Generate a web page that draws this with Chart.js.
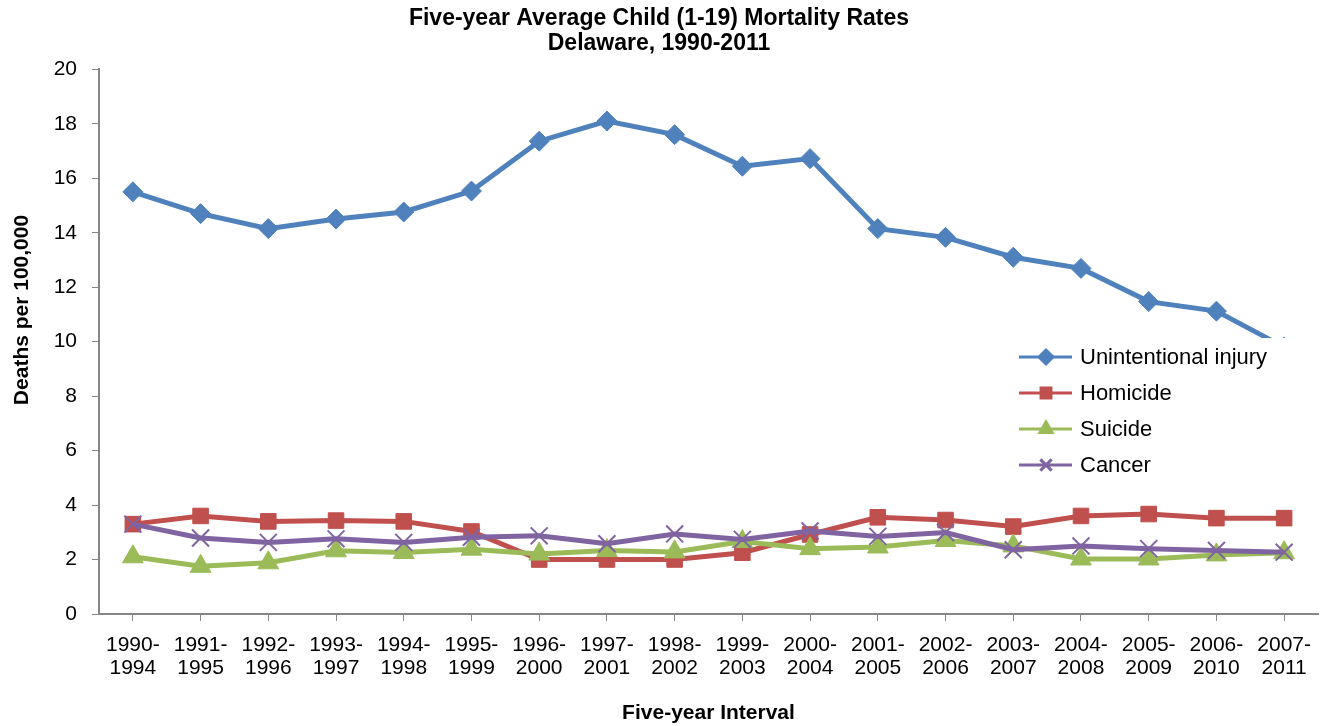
<!DOCTYPE html>
<html lang="en">
<head>
  <meta charset="UTF-8">
  <title>Five-year Average Child (1-19) Mortality Rates, Delaware</title>
  <script src="https://cdn.jsdelivr.net/npm/chart.js"></script>
  <style>
    body {
      margin: 0;
      background: #fff;
    }
    .chart-container {
      width: 1325px;
      height: 726px;
    }
  </style>
</head>
<body>
  <div class="chart-container">
    <canvas id="mortalityChart"></canvas>
  </div>

  <script>
    // Five-year intervals (x axis)
    const intervals = [
      '1990-1994', '1991-1995', '1992-1996', '1993-1997', '1994-1998', '1995-1999',
      '1996-2000', '1997-2001', '1998-2002', '1999-2003', '2000-2004', '2001-2005',
      '2002-2006', '2003-2007', '2004-2008', '2005-2009', '2006-2010', '2007-2011'
    ];

    // Deaths per 100,000 by cause
    const unintentional = [15.5, 14.7, 14.15, 14.5, 14.76, 15.53, 17.36, 18.1, 17.6,
                           16.44, 16.72, 14.15, 13.83, 13.1, 12.69, 11.47, 11.12, 9.8];
    const homicide = [3.3, 3.6, 3.4, 3.43, 3.4, 3.03, 2.0, 2.0, 2.0,
                      2.25, 2.92, 3.55, 3.45, 3.21, 3.6, 3.67, 3.52, 3.52];
    const suicide = [2.1, 1.75, 1.88, 2.32, 2.26, 2.38, 2.2, 2.33, 2.28,
                     2.66, 2.4, 2.46, 2.7, 2.5, 2.02, 2.02, 2.17, 2.25];
    const cancer = [3.3, 2.79, 2.63, 2.76, 2.63, 2.82, 2.87, 2.58, 2.94,
                    2.74, 3.05, 2.85, 2.99, 2.36, 2.5, 2.4, 2.33, 2.27];

    const yTicks = [0, 2, 4, 6, 8, 10, 12, 14, 16, 18, 20];

    const axisGray = '#868686';
    const fontFamily = '"Liberation Sans", Arial, sans-serif';

    // Y axis title sits a little above the plot centre in the original, so draw it by hand
    const yTitle = {
      id: 'yTitle',
      afterDraw(chart) {
        const ctx = chart.ctx;
        ctx.save();
        ctx.translate(22, 310);
        ctx.rotate(-Math.PI / 2);
        ctx.fillStyle = '#000';
        ctx.font = 'bold 21px ' + fontFamily;
        ctx.textAlign = 'center';
        ctx.textBaseline = 'middle';
        ctx.fillText('Deaths per 100,000', 0, 0);
        ctx.restore();
      }
    };

    // Legend drawn on top of the plot with a white box (like the original)
    const boxLegend = {
      id: 'boxLegend',
      afterDraw(chart) {
        const ctx = chart.ctx;
        ctx.save();
        ctx.fillStyle = '#fff';
        ctx.fillRect(1010, 338, 315, 146);
        chart.data.datasets.forEach((ds, i) => {
          const y = 357 + i * 36;
          ctx.strokeStyle = ds.borderColor;
          ctx.lineWidth = 3;
          ctx.beginPath();
          ctx.moveTo(1019, y);
          ctx.lineTo(1072, y);
          ctx.stroke();
          ctx.fillStyle = ds.borderColor;
          Chart.helpers.drawPoint(ctx, {
            pointStyle: ds.pointStyle,
            radius: ds.pointStyle === 'crossRot' ? 8 : 7,
            rotation: 0,
            borderWidth: ds.pointStyle === 'crossRot' ? 2 : 1
          }, 1046, y);
          ctx.fillStyle = '#000';
          ctx.font = '22px ' + fontFamily;
          ctx.textAlign = 'left';
          ctx.textBaseline = 'middle';
          ctx.fillText(ds.label, 1080, y + 1);
        });
        ctx.restore();
      }
    };

    const data = {
      labels: intervals,
      datasets: [
        {
          label: 'Unintentional injury',
          data: unintentional,
          borderColor: '#4F81BD',
          backgroundColor: '#4F81BD',
          pointStyle: 'rectRot',
          pointRadius: 10,
          pointBorderWidth: 1,
          borderWidth: 5,
          order: 4
        },
        {
          label: 'Homicide',
          data: homicide,
          borderColor: '#C0504D',
          backgroundColor: '#C0504D',
          pointStyle: 'rect',
          pointRadius: 11,
          pointBorderWidth: 1,
          borderWidth: 5,
          order: 3
        },
        {
          label: 'Suicide',
          data: suicide,
          borderColor: '#9BBB59',
          backgroundColor: '#9BBB59',
          pointStyle: 'triangle',
          pointRadius: 12,
          pointBorderWidth: 1,
          borderWidth: 5,
          order: 2
        },
        {
          label: 'Cancer',
          data: cancer,
          borderColor: '#8064A2',
          backgroundColor: '#8064A2',
          pointStyle: 'crossRot',
          pointRadius: 12,
          pointBorderWidth: 2,
          borderWidth: 5,
          order: 1
        }
      ]
    };

    const config = {
      type: 'line',
      data: data,
      plugins: [yTitle, boxLegend],
      options: {
        responsive: true,
        maintainAspectRatio: false,
        animation: false,
        layout: {
          autoPadding: false,
          padding: { left: 0, right: 7, top: 0, bottom: 0 }
        },
        elements: {
          line: { tension: 0 }
        },
        scales: {
          x: {
            offset: true,
            grid: {
              drawOnChartArea: false,
              drawTicks: true,
              tickLength: 7,
              color: axisGray,
              offset: false
            },
            border: { color: axisGray, width: 2 },
            ticks: {
              color: '#000',
              padding: 13,
              maxRotation: 0,
              autoSkip: false,
              font: { family: fontFamily, size: 21, lineHeight: 1.1 },
              callback: function (value, index) {
                const s = intervals[index];
                return [s.slice(0, 5), s.slice(5)];
              }
            },
            title: {
              display: true,
              text: 'Five-year Interval',
              color: '#000',
              padding: { top: 0, bottom: 0 },
              font: { family: fontFamily, size: 21, weight: 'bold', lineHeight: 1.2 }
            },
            afterFit: function (scale) {
              scale.height = 112;
              scale.paddingLeft = 0;
              scale.paddingRight = 0;
            }
          },
          y: {
            min: 0,
            max: 20,
            afterBuildTicks: function (scale) {
              scale.ticks = yTicks.map(v => ({ value: v }));
            },
            grid: {
              drawOnChartArea: false,
              drawTicks: true,
              tickLength: 7,
              color: axisGray
            },
            border: { color: axisGray, width: 2 },
            ticks: {
              color: '#000',
              padding: 15,
              font: { family: fontFamily, size: 21 }
            },
            afterFit: function (scale) {
              scale.width = 99;
            }
          }
        },
        plugins: {
          legend: { display: false },
          tooltip: { enabled: false },
          title: {
            display: true,
            text: ['Five-year Average Child (1-19) Mortality Rates', 'Delaware, 1990-2011'],
            color: '#000',
            padding: { top: 7, bottom: 14 },
            font: { family: fontFamily, size: 23, weight: 'bold', lineHeight: 1.05 }
          }
        }
      }
    };

    const ctx = document.getElementById('mortalityChart').getContext('2d');
    const chart = new Chart(ctx, config);
  </script>
</body>
</html>
